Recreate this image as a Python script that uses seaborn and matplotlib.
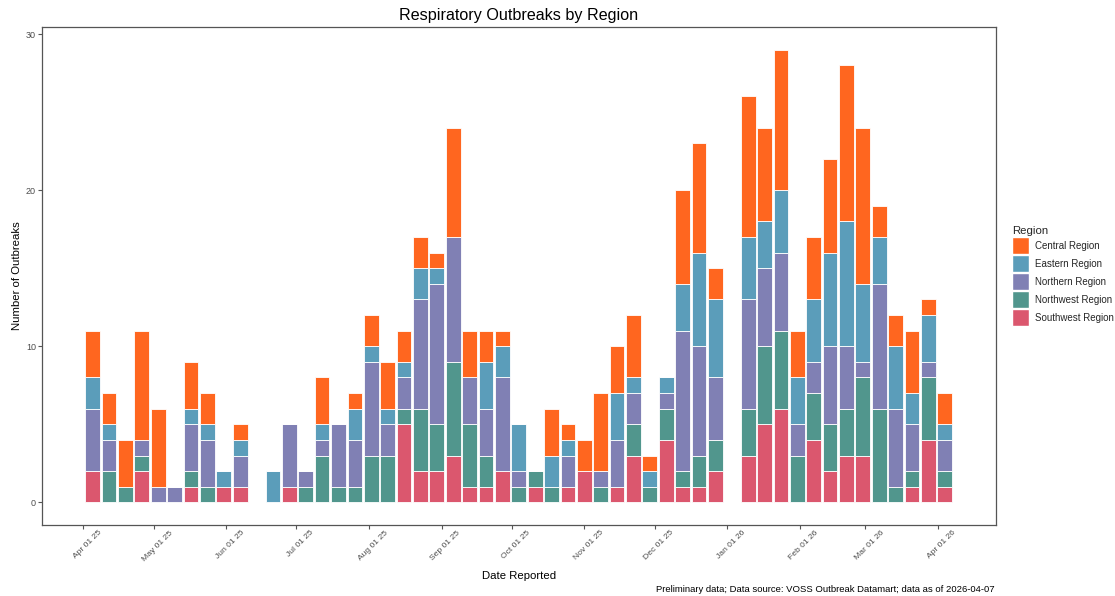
import numpy as np
import pandas as pd
import matplotlib
matplotlib.use("Agg")
import matplotlib.pyplot as plt
import matplotlib.dates as mdates
import matplotlib.transforms as mtransforms
from matplotlib.patches import Patch
import seaborn as sns

# ---- data ----
weeks = pd.date_range("2025-04-05", "2026-04-04", freq="7D")
regions = ["Central Region", "Eastern Region", "Northern Region",
           "Northwest Region", "Southwest Region"]
central = [3, 2, 3, 7, 5, 0, 3, 2, 0, 1, 0, 0, 0, 0, 3, 0, 1, 2, 3, 2, 2, 1, 7, 3, 2, 1, 0,
           0, 3, 1, 2, 5, 3, 4, 1, 0, 6, 7, 2, 0, 9, 6, 9, 3, 4, 6, 10, 10, 2, 2, 4, 1, 2]
eastern = [2, 1, 0, 0, 0, 0, 1, 1, 1, 1, 0, 2, 0, 0, 1, 0, 2, 1, 1, 1, 2, 1, 0, 0, 3, 2, 3,
           0, 2, 1, 0, 0, 3, 1, 1, 1, 3, 6, 5, 0, 4, 3, 4, 3, 4, 6, 8, 5, 3, 4, 2, 3, 1]
northern = [4, 2, 0, 1, 1, 1, 3, 3, 0, 2, 0, 0, 4, 1, 1, 4, 3, 6, 2, 2, 7, 9, 8, 3, 3, 6, 1,
            0, 0, 2, 0, 1, 3, 2, 0, 1, 9, 7, 4, 0, 7, 5, 5, 2, 2, 5, 4, 1, 8, 5, 3, 1, 2]
northwest = [0, 2, 1, 1, 0, 0, 1, 1, 0, 0, 0, 0, 0, 1, 3, 1, 1, 3, 3, 1, 4, 3, 6, 4, 2, 0, 1,
             1, 1, 0, 0, 1, 0, 2, 1, 2, 1, 2, 2, 0, 3, 5, 5, 3, 3, 3, 3, 5, 6, 1, 1, 4, 1]
southwest = [2, 0, 0, 2, 0, 0, 1, 0, 1, 1, 0, 0, 1, 0, 0, 0, 0, 0, 0, 5, 2, 2, 3, 1, 1, 2, 0,
             1, 0, 1, 2, 0, 1, 3, 0, 4, 1, 1, 2, 0, 3, 5, 6, 0, 4, 2, 3, 3, 0, 0, 1, 4, 1]
colors = ["#FF661F", "#5B9DBA", "#8080B4", "#51968D", "#DB576E"]

series = dict(zip(regions, [central, eastern, northern, northwest, southwest]))
xnum = mdates.date2num(weeks.to_pydatetime())
df = pd.concat([pd.DataFrame({"x": xnum, "count": vals, "Region": reg})
                for reg, vals in series.items()], ignore_index=True)
edges = [float(v) for v in np.concatenate([xnum - 3.5, [xnum[-1] + 3.5]])]

# ---- plot ----
sns.set_theme(style="white")
plt.rcParams["font.family"] = ["Liberation Sans", "DejaVu Sans"]

fig = plt.figure(figsize=(11.15, 5.96), dpi=100)
ax = fig.add_axes([42 / 1115, 71 / 596, (995.5 - 42) / 1115, (525 - 27) / 596])

sns.histplot(data=df, x="x", weights="count", hue="Region", hue_order=regions,
             palette=dict(zip(regions, colors)), multiple="stack", bins=edges,
             shrink=0.9, alpha=1, edgecolor="white", linewidth=0.6,
             legend=False, ax=ax)

span = (xnum[-1] + 3.15) - (xnum[0] - 3.15)
ax.set_xlim(xnum[0] - 3.15 - 0.05 * span, xnum[-1] + 3.15 + 0.05 * span)
ax.set_ylim(-1.45, 30.45)
ax.set_yticks([0, 10, 20, 30])
ax.xaxis.set_major_locator(mdates.MonthLocator())
ax.xaxis.set_major_formatter(mdates.DateFormatter("%b %d %y"))

for s in ax.spines.values():
    s.set_color("#555555")
    s.set_linewidth(0.9)
ax.tick_params(axis="both", which="major", length=2.8, width=0.8, color="#555555",
               labelcolor="#4D4D4D", pad=1.5, bottom=True, left=True)
ax.tick_params(axis="y", labelsize=6.5)
ax.tick_params(axis="x", labelsize=6.1, pad=0.3)
offset = mtransforms.ScaledTranslation(4 / 100, 0, fig.dpi_scale_trans)
for lab in ax.get_xticklabels():
    lab.set_rotation(45)
    lab.set_ha("center")
    lab.set_va("top")
    lab.set_transform(lab.get_transform() + offset)

ax.set_xlabel("Date Reported", fontsize=8.2, color="black", labelpad=6)
ax.set_ylabel("Number of Outbreaks", fontsize=8.2, color="black", labelpad=3)
ax.set_title("Respiratory Outbreaks by Region", fontsize=11.6, color="black", pad=5)

handles = [Patch(facecolor=c, edgecolor="white", label=r) for r, c in zip(regions, colors)]
leg = fig.legend(handles=handles, title="Region", loc="upper left",
                 bbox_to_anchor=(1008 / 1115, 1 - 222 / 596), frameon=False,
                 fontsize=7, title_fontsize=8.2, handlelength=1.72, handleheight=2.27,
                 labelspacing=0.13, handletextpad=0.65, borderaxespad=0)
leg._legend_box.align = "left"

fig.text(995 / 1115, 1 - 589 / 596,
         "Preliminary data; Data source: VOSS Outbreak Datamart; data as of 2026-04-07",
         ha="right", va="center", fontsize=6.8, color="black")

fig.savefig("out.png", dpi=100)
